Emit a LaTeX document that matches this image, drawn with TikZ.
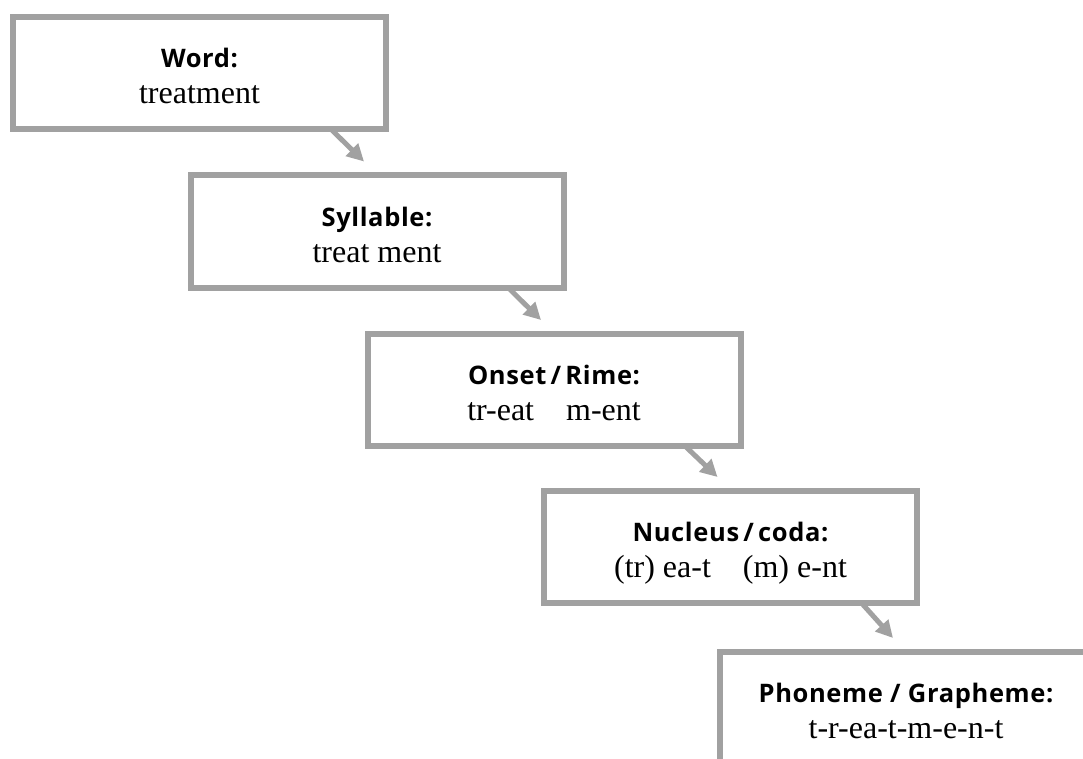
\documentclass[tikz,border=0pt]{standalone}
\usepackage{fontspec}
\setmainfont{Liberation Serif}
\newfontfamily\labelfont[LetterSpace=2.5]{Open Sans}
\usetikzlibrary{arrows.meta}
\definecolor{boxgray}{gray}{0.63}
% label line and body line, with struts so every box sets its text alike
\newcommand\stagetext[2]{{\labelfont\bfseries\fontsize{25.5}{36}\selectfont\rule{0pt}{35.5pt}#1}\\#2\rule[-10pt]{0pt}{10pt}}

\begin{document}
\begin{tikzpicture}[x=1pt,y=-1pt,
    stage/.style={draw=boxgray, line width=6pt, fill=white, minimum width=373pt, minimum height=112pt,
        align=center, font=\fontsize{32}{36}\selectfont},
    flow/.style={draw=boxgray, fill=boxgray, line width=5pt, -{Triangle[width=17pt,length=17pt]}}]
    \useasboundingbox (0,0) rectangle (1083,759);
    \node[stage] (word)  at (199.5,72.75) {\stagetext{Word:}{treatment}};
    \node[stage] (syll)  at (377,231.5)   {\stagetext{Syllable:}{treat ment}};
    \node[stage] (onset) at (554,390)     {\stagetext{Onset\,/\,Rime:}{tr-eat\quad m-ent}};
    \node[stage] (nuc)   at (730.5,547)   {\stagetext{Nucleus\,/\,coda:}{(tr) ea-t\quad(m) e-nt}};
    \node[stage] (phon)  at (906,708)     {\stagetext{Phoneme / Grapheme:}{t-r-ea-t-m-e-n-t}};
%    \draw [red] (0,0) -- (1083,759);
    \draw [flow] ([xshift=131pt,yshift=3pt]word.south)  -- ([xshift=-13pt,yshift=11pt]syll.north);
    \draw [flow] ([xshift=131pt,yshift=3pt]syll.south)  -- ([xshift=-13pt,yshift=11pt]onset.north);
    \draw [flow] ([xshift=131pt,yshift=3pt]onset.south) -- ([xshift=-13pt,yshift=11pt]nuc.north);
    \draw [flow] ([xshift=131pt,yshift=3pt]nuc.south)   -- ([xshift=-13pt,yshift=11pt]phon.north);
\end{tikzpicture}
\end{document}
